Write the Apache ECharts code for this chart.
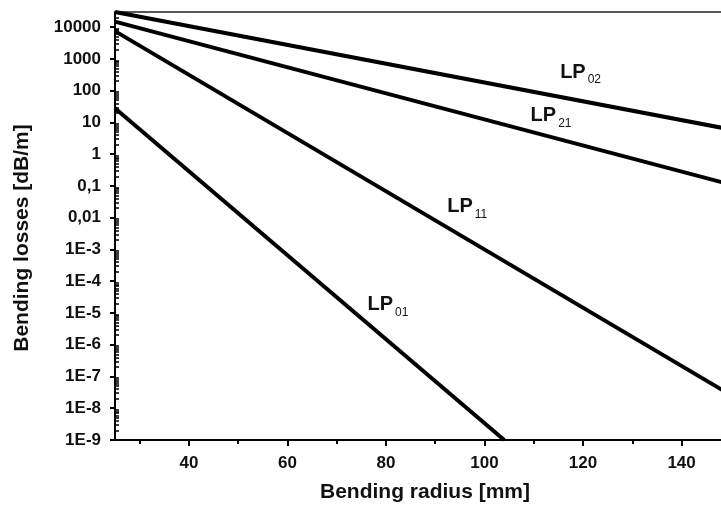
<!DOCTYPE html>
<html>
<head>
<meta charset="utf-8">
<script src="https://cdn.jsdelivr.net/npm/echarts@6/dist/echarts.min.js"></script>
<style>
  html, body { margin: 0; padding: 0; background: #fff; }
  #main { width: 721px; height: 508px; }
</style>
</head>
<body>
<div id="main"></div>
<script>
// bending radius [mm] at which each line is read
var radiusLP02 = [25, 150];
var lossLP02 = [30000, 6];
var radiusLP21 = [25, 150];
var lossLP21 = [15000, 0.11];
var radiusLP11 = [25, 150];
var lossLP11 = [7500, 2.6e-8];
var radiusLP01 = [25, 104];
var lossLP01 = [28, 1e-9];

// mode name, subscript, label anchor [radius, loss]
var modeNames = ['LP02', 'LP21', 'LP11', 'LP01'];
var modeSubs = ['02', '21', '11', '01'];
var labelAt = [[119.5, 370], [113.5, 16], [96.5, 0.022], [80.4, 1.8e-5]];

var xLabelTicks = [40, 60, 80, 100, 120, 140];
var xMinorTicks = [30, 50, 70, 90, 110, 130];
var yDecades = [1e-9, 1e-8, 1e-7, 1e-6, 1e-5, 1e-4, 1e-3, 0.01, 0.1, 1, 10, 100, 1000, 10000];

var yMinor = [];
yDecades.forEach(function (d) {
  for (var k = 2; k <= 9; k++) {
    if (d * k < 30000) yMinor.push(d * k);
  }
});

function yFmt(v) {
  var e = Math.round(Math.log10(v));
  if (e >= 0) return String(Math.pow(10, e));
  if (e === -1) return '0,1';
  if (e === -2) return '0,01';
  return '1E' + e;
}

function pairs(xs, ys) {
  return xs.map(function (x, i) { return [x, ys[i]]; });
}

var allData = [pairs(radiusLP02, lossLP02), pairs(radiusLP21, lossLP21),
               pairs(radiusLP11, lossLP11), pairs(radiusLP01, lossLP01)];

var font = '"Liberation Sans", Arial, sans-serif';

var series = allData.map(function (d, i) {
  return {
    name: modeNames[i],
    type: 'line',
    data: d,
    symbol: 'none',
    clip: true,
    lineStyle: { color: '#000', width: 4 },
    markPoint: {
      symbol: 'circle',
      symbolSize: 0,
      data: [{ coord: labelAt[i] }],
      label: {
        show: true,
        position: 'inside',
        formatter: '{a|LP}{b|' + modeSubs[i] + '}',
        rich: {
          a: { fontFamily: font, fontWeight: 'bold', fontSize: 20, color: '#111' },
          b: { fontFamily: font, fontSize: 12, color: '#111', padding: [15, 0, 0, 2] }
        }
      }
    }
  };
});

var chart = echarts.init(document.getElementById('main'));
chart.setOption({
  backgroundColor: '#fff',
  animation: false,
  grid: { left: 115, right: 0, top: 12, bottom: 68 },
  xAxis: [{
    type: 'value',
    min: 25,
    max: 148,
    name: 'Bending radius [mm]',
    nameLocation: 'middle',
    nameGap: 42,
    nameTextStyle: { fontFamily: font, fontWeight: 'bold', fontSize: 21, color: '#111', padding: [0, 0, 0, 14] },
    axisLine: { lineStyle: { color: '#000', width: 2 } },
    axisTick: { customValues: xLabelTicks, length: 6, lineStyle: { color: '#000', width: 2 } },
    axisLabel: { customValues: xLabelTicks, fontFamily: font, fontWeight: 'bold', fontSize: 17, color: '#111', margin: 15 },
    splitLine: { show: false }
  }, {
    type: 'value',
    min: 25,
    max: 148,
    position: 'bottom',
    axisLine: { show: false },
    axisTick: { customValues: xMinorTicks, length: 4, lineStyle: { color: '#000', width: 2 } },
    axisLabel: { show: false },
    splitLine: { show: false }
  }, {
    type: 'value',
    min: 25,
    max: 148,
    position: 'top',
    axisLine: { lineStyle: { color: '#222', width: 1.5 } },
    axisTick: { show: false },
    axisLabel: { show: false },
    splitLine: { show: false }
  }],
  yAxis: [{
    type: 'log',
    min: 1e-9,
    max: 30000,
    name: 'Bending losses [dB/m]',
    nameLocation: 'middle',
    nameGap: 82,
    nameTextStyle: { fontFamily: font, fontWeight: 'bold', fontSize: 21, color: '#111', padding: [0, 24, 0, 0] },
    axisLine: { lineStyle: { color: '#000', width: 2 } },
    axisTick: { customValues: yDecades, length: 5, lineStyle: { color: '#000', width: 2 } },
    axisLabel: { customValues: yDecades, formatter: yFmt, fontFamily: font, fontWeight: 'bold', fontSize: 17, color: '#111', margin: 14 },
    splitLine: { show: false }
  }, {
    type: 'log',
    min: 1e-9,
    max: 30000,
    position: 'left',
    axisLine: { show: false },
    axisTick: { inside: true, customValues: yMinor, length: 4, lineStyle: { color: '#000', width: 1.5 } },
    axisLabel: { show: false },
    splitLine: { show: false }
  }],
  series: series
});
</script>
</body>
</html>
